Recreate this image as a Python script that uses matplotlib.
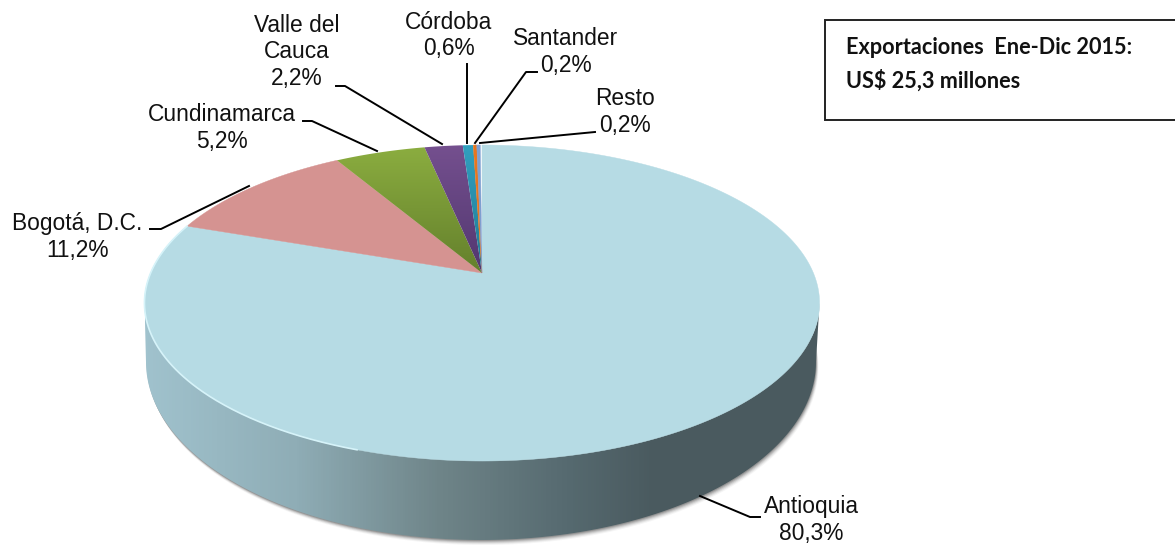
import numpy as np
import matplotlib
matplotlib.use('Agg')
import matplotlib.pyplot as plt
from matplotlib.patches import Polygon, Rectangle
from matplotlib.colors import LinearSegmentedColormap

# Data
departments = ['Antioquia', 'Bogotá, D.C.', 'Cundinamarca', 'Valle del\nCauca', 'Córdoba', 'Santander', 'Resto']
shares = [80.3, 11.2, 5.2, 2.2, 0.6, 0.2, 0.2]
box_lines = ['Exportaciones  Ene-Dic 2015:', 'US$ 25,3 millones']

# Styles for each slice: top colour, colour at the apex
slice_colors = [('#b6dbe4', '#b6dbe4'), ('#d59391', '#d59391'), ('#8cae40', '#64802c'),
                ('#75508f', '#523770'), ('#31a0bf', '#1f7a94'), ('#e8761e', '#e8761e'),
                ('#7f9fd0', '#7f9fd0')]
label_pos = [(811, 520), (77, 237), (222, 128), (297, 52), (449, 35.5), (566, 52), (625, 112)]
leaders = [[(700, 496), (750, 517), (760, 517)],
           [(150, 229), (161, 229), (249, 186)],
           [(303, 121), (312, 121), (377, 151)],
           [(336, 86), (345, 86), (442, 144)],
           [(467, 64), (467, 143)],
           [(537, 72), (526, 72), (475, 143)],
           [(595, 132), (480, 143)]]

# Pie geometry in pixels
cx, cy = 482, 273
k, a, b = 0.19, 152.3, 331.4
base_cx, base_cy, base_rx, base_ry = 481, 362, 335, 178


def project(theta):
    # circle seen in perspective, theta clockwise from 12 o'clock
    den = 1 + k * np.cos(theta)
    return cx + b * np.sin(theta) / den, cy - a * np.cos(theta) / den


plt.rcParams['font.family'] = ['Liberation Sans', 'DejaVu Sans']
fig = plt.figure(figsize=(11.75, 5.45), dpi=100)
ax = fig.add_axes([0, 0, 1, 1])

# Soft shadow below the base
t = np.linspace(np.pi * 0.45, np.pi * 1.55, 300)
for off, alpha in zip([5, 4, 3, 2, 1], [0.06, 0.1, 0.15, 0.22, 0.32]):
    sx = base_cx + off * 0.5 + base_rx * np.sin(t)
    sy = base_cy + off - base_ry * np.cos(t)
    ax.fill(sx, sy, color='#555555', alpha=alpha, lw=0, zorder=1)

# Side wall with horizontal gradient
front = np.linspace(np.pi * 0.5, np.pi * 1.5, 300)
top_x = cx + 337.5 * np.sin(front)
top_y = 303 - 158 * np.cos(front)
base_x = base_cx + base_rx * np.sin(front)
base_y = base_cy - base_ry * np.cos(front)
side = Polygon(np.r_[np.c_[top_x, top_y], np.c_[base_x, base_y][::-1]], closed=True, fc='none', ec='none')
ax.add_patch(side)
side_cmap = LinearSegmentedColormap.from_list('side', [(0, '#a0c2cd'), (0.22, '#8fadb6'), (0.43, '#6f8589'),
                                                       (0.62, '#566a70'), (0.75, '#4a5a5f'), (1, '#4a5a5f')])
img = ax.imshow(np.linspace(0, 1, 680).reshape(1, -1), cmap=side_cmap, extent=(145, 825, 545, 200),
                aspect='auto', zorder=2)
img.set_clip_path(side)

# Top face
theta0 = 0.0
for i, (share, cols) in enumerate(zip(shares, slice_colors)):
    theta1 = theta0 + share / 100 * 2 * np.pi
    th = np.linspace(theta0, theta1, max(int(share * 8), 4))
    px, py = project(th)
    pts = np.r_[[[cx, cy]], np.c_[px, py]]
    if cols[0] == cols[1]:
        ax.add_patch(Polygon(pts, closed=True, fc=cols[0], ec=cols[0], lw=0.3, zorder=3 + i * 0.1))
    else:
        wedge = Polygon(pts, closed=True, fc='none', ec='none')
        ax.add_patch(wedge)
        cmap = LinearSegmentedColormap.from_list('c%d' % i, [cols[0], cols[1]])
        im = ax.imshow(np.linspace(0, 1, 130).reshape(-1, 1), cmap=cmap, extent=(300, 490, 273, 143),
                       aspect='auto', origin='upper', zorder=3 + i * 0.1)
        im.set_clip_path(wedge)
    theta0 = theta1

# Light rim on the first slice, left side only
rim = np.linspace(np.pi * 1.1, shares[0] / 100 * 2 * np.pi, 200)
rx, ry = project(rim)
ax.plot(rx, ry, color='#d6f3f9', lw=1.2, zorder=4)

# Leader lines and labels
for line in leaders:
    xs, ys = zip(*line)
    ax.plot(xs, ys, color='black', lw=1.4, solid_joinstyle='round', zorder=5)
for name, share, (lx, ly) in zip(departments, shares, label_pos):
    label = name + '\n' + ('%.1f%%' % share).replace('.', ',')
    ax.text(lx, ly, label, ha='center', va='center', fontsize=16.4, color='#111111',
            linespacing=1.2, zorder=6)

# Text box
ax.add_patch(Rectangle((825, 20), 370, 100, fc='white', ec='#222222', lw=1.4, zorder=5))
for line, y in zip(box_lines, [47, 81]):
    ax.text(846, y, line, family=['Lato', 'DejaVu Sans'], fontweight='bold', fontsize=15.6,
            va='center', ha='left', color='#111111', zorder=6)

ax.set_xlim(0, 1175)
ax.set_ylim(545, 0)
ax.axis('off')
fig.savefig('out.png', dpi=100)
